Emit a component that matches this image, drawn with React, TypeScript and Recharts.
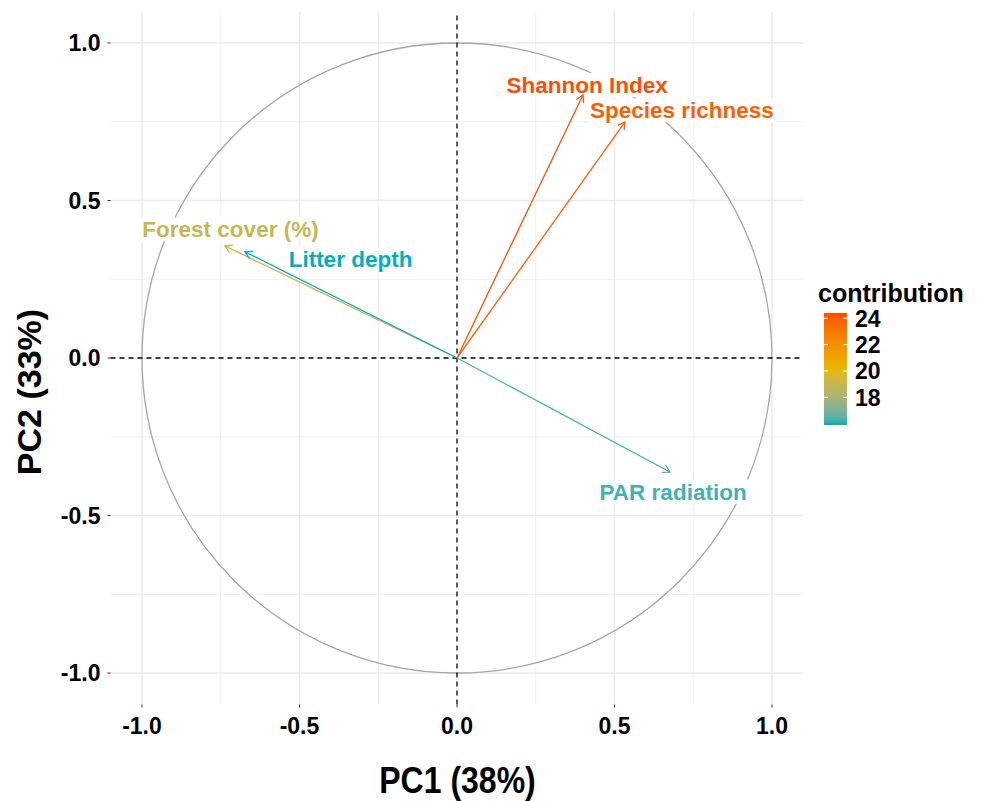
import React from 'react';
import { ComposedChart, XAxis, YAxis, Scatter, ReferenceLine, ReferenceDot, Label } from 'recharts';

const FONT = "'Liberation Sans', Arial, sans-serif";

// PCA variable coordinates
const variables = ['Shannon Index', 'Species richness', 'Forest cover (%)', 'Litter depth', 'PAR radiation'];
const pc1 = [0.4, 0.533, -0.737, -0.673, 0.676];
const pc2 = [0.835, 0.749, 0.356, 0.337, -0.362];
const contribution = [24.4, 23.9, 19.0, 15.9, 16.2];
// where each text label sits (PC units)
const labelPc1 = [0.413, 0.714, -0.719, -0.338, 0.686];
const labelPc2 = [0.867, 0.786, 0.408, 0.313, -0.424];

const axisTicks = [-1, -0.5, 0, 0.5, 1];
const minorTicks = [-0.75, -0.25, 0.25, 0.75];
const majorGrid = [-1, -0.5, 0.5, 1];
const legendTicks = [18, 20, 22, 24];
const gradientCols = ['#00AFBB', '#E7B800', '#FC4E07'];

const tips = variables.map((name, i) => ({ name, x: pc1[i], y: pc2[i] }));

// --- colour ramp interpolated in CIELAB, like ggplot's gradientn
function hexToLab(hex: string): number[] {
  const c = [1, 3, 5].map((i) => parseInt(hex.slice(i, i + 2), 16) / 255);
  const [r, g, b] = c.map((v) => (v <= 0.04045 ? v / 12.92 : ((v + 0.055) / 1.055) ** 2.4));
  const X = (0.4124 * r + 0.3576 * g + 0.1805 * b) / 0.95047;
  const Y = 0.2126 * r + 0.7152 * g + 0.0722 * b;
  const Z = (0.0193 * r + 0.1192 * g + 0.9505 * b) / 1.08883;
  const f = (t: number) => (t > 0.008856 ? Math.cbrt(t) : 7.787 * t + 16 / 116);
  const fx = f(X), fy = f(Y), fz = f(Z);
  return [116 * fy - 16, 500 * (fx - fy), 200 * (fy - fz)];
}

function labToHex([L, a, bb]: number[]): string {
  const fy = (L + 16) / 116;
  const fx = fy + a / 500;
  const fz = fy - bb / 200;
  const inv = (t: number) => (t ** 3 > 0.008856 ? t ** 3 : (t - 16 / 116) / 7.787);
  const X = inv(fx) * 0.95047, Y = inv(fy), Z = inv(fz) * 1.08883;
  const lin = [
    3.2406 * X - 1.5372 * Y - 0.4986 * Z,
    -0.9689 * X + 1.8758 * Y + 0.0415 * Z,
    0.0557 * X - 0.204 * Y + 1.057 * Z,
  ];
  return (
    '#' +
    lin
      .map((v) => {
        const s = v <= 0.0031308 ? 12.92 * v : 1.055 * v ** (1 / 2.4) - 0.055;
        const n = Math.round(Math.min(1, Math.max(0, s)) * 255);
        return n.toString(16).padStart(2, '0');
      })
      .join('')
  );
}

const labCols = gradientCols.map(hexToLab);
const cMin = Math.min(...contribution);
const cMax = Math.max(...contribution);

function rampColor(t: number): string {
  const tt = Math.min(1, Math.max(0, t)) * (labCols.length - 1);
  const i = Math.min(labCols.length - 2, Math.floor(tt));
  const f = tt - i;
  return labToHex(labCols[i].map((v, k) => v + (labCols[i + 1][k] - v) * f));
}

const contribColor = (v: number) => rampColor((v - cMin) / (cMax - cMin));

// --- shapes
function ArrowShape(props: any) {
  const { x1, y1, x2, y2, stroke } = props;
  const ang = Math.atan2(y2 - y1, x2 - x1);
  const len = 8;
  const spread = Math.PI / 6;
  const a1 = ang + Math.PI - spread;
  const a2 = ang + Math.PI + spread;
  const head = `${x2 + len * Math.cos(a1)},${y2 + len * Math.sin(a1)} ${x2},${y2} ${x2 + len * Math.cos(a2)},${
    y2 + len * Math.sin(a2)
  }`;
  return (
    <g>
      <line x1={x1} y1={y1} x2={x2} y2={y2} stroke={stroke} strokeWidth={1.3} />
      <polyline points={head} fill="none" stroke={stroke} strokeWidth={1.3} />
    </g>
  );
}

function CircleShape(props: any) {
  const { x1, y1, x2, y2 } = props;
  return (
    <ellipse
      cx={(x1 + x2) / 2}
      cy={(y1 + y2) / 2}
      rx={Math.abs(x2 - x1) / 2}
      ry={Math.abs(y2 - y1) / 2}
      fill="none"
      stroke="#A6A6A6"
      strokeWidth={1.3}
    />
  );
}

let measureCtx: CanvasRenderingContext2D | null = null;
function textWidth(text: string, font: string): number {
  if (!measureCtx) measureCtx = document.createElement('canvas').getContext('2d');
  if (!measureCtx) return text.length * 12;
  measureCtx.font = font;
  return measureCtx.measureText(text).width;
}

function makeLabel(text: string, color: string) {
  return (props: any) => {
    const { cx, cy } = props;
    const fs = 22.5;
    const w = textWidth(text, `bold ${fs}px ${FONT}`);
    return (
      <g>
        <rect x={cx - w / 2 - 2} y={cy - 12} width={w + 4} height={24} fill="#fff" />
        <text x={cx} y={cy + 8} textAnchor="middle" fontSize={fs} fontWeight="bold" fontFamily={FONT} fill={color}>
          {text}
        </text>
      </g>
    );
  };
}

function ContributionLegend() {
  const barX = 14, barTop = 35, barH = 112, barW = 23;
  const stops = Array.from({ length: 21 }, (_, i) => i / 20);
  const yOf = (v: number) => barTop + barH - ((v - cMin) / (cMax - cMin)) * barH;
  return (
    <svg width={175} height={160} style={{ position: 'absolute', left: 810, top: 278 }}>
      <defs>
        <linearGradient id="contribGrad" x1="0" y1="1" x2="0" y2="0">
          {stops.map((s) => (
            <stop key={s} offset={s} stopColor={rampColor(s)} />
          ))}
        </linearGradient>
      </defs>
      <text x={8} y={24} fontSize={25} fontWeight="bold" fontFamily={FONT} fill="#000">
        contribution
      </text>
      <rect x={barX} y={barTop} width={barW} height={barH} fill="url(#contribGrad)" />
      {legendTicks.map((t) => (
        <g key={t}>
          <line x1={barX} x2={barX + 4} y1={yOf(t)} y2={yOf(t)} stroke="#fff" strokeWidth={1} />
          <line x1={barX + barW - 4} x2={barX + barW} y1={yOf(t)} y2={yOf(t)} stroke="#fff" strokeWidth={1} />
          <text x={45} y={yOf(t)} dy="0.36em" fontSize={23} fontWeight="bold" fontFamily={FONT} fill="#000">
            {t}
          </text>
        </g>
      ))}
    </svg>
  );
}

const tickStyle = { fill: '#000', fontSize: 23, fontWeight: 'bold', fontFamily: FONT };

export default function App() {
  return (
    <div style={{ position: 'absolute', left: 0, top: 0, width: 988, height: 801, background: '#fff' }}>
      <ComposedChart width={988} height={801} margin={{ top: 11.5, right: 184.5, bottom: 66.5, left: 50.5 }}>
        <XAxis
          type="number"
          dataKey="x"
          domain={[-1.1, 1.1]}
          ticks={axisTicks}
          allowDataOverflow
          axisLine={false}
          tickSize={3}
          tickMargin={10}
          tickLine={{ stroke: '#333' }}
          tick={tickStyle}
          tickFormatter={(v: number) => v.toFixed(1)}
          height={30}
        >
          <Label
            content={(p: any) => {
              const vb = p.viewBox || { x: 110.5, y: 704.5, width: 693 };
              return (
                <text
                  transform={`translate(${vb.x + vb.width / 2 + 0.5},${vb.y + 88}) scale(1,1.15)`}
                  textAnchor="middle"
                  fontSize={32}
                  fontWeight="bold"
                  fontFamily={FONT}
                  fill="#000"
                >
                  PC1 (38%)
                </text>
              );
            }}
          />
        </XAxis>
        <YAxis
          type="number"
          dataKey="y"
          domain={[-1.1, 1.1]}
          ticks={axisTicks}
          allowDataOverflow
          axisLine={false}
          tickSize={3}
          tickMargin={7}
          tickLine={{ stroke: '#333' }}
          tick={tickStyle}
          tickFormatter={(v: number) => v.toFixed(1)}
          width={60}
        >
          <Label
            content={(p: any) => {
              const vb = p.viewBox || { x: 50.5, y: 11.5, width: 60, height: 693 };
              const bx = vb.x + vb.width - 70;
              const cy = vb.y + vb.height / 2 + 34;
              return (
                <text
                  transform={`translate(${bx},${cy}) rotate(-90)`}
                  textAnchor="middle"
                  fontSize={34}
                  fontWeight="bold"
                  fontFamily={FONT}
                  fill="#000"
                >
                  PC2 (33%)
                </text>
              );
            }}
          />
        </YAxis>

        {minorTicks.map((v) => (
          <ReferenceLine key={`mx${v}`} x={v} stroke="#F0F0F0" strokeWidth={1} zIndex={1} />
        ))}
        {minorTicks.map((v) => (
          <ReferenceLine key={`my${v}`} y={v} stroke="#F0F0F0" strokeWidth={1} zIndex={1} />
        ))}
        {majorGrid.map((v) => (
          <ReferenceLine key={`gx${v}`} x={v} stroke="#EBEBEB" strokeWidth={1.5} zIndex={2} />
        ))}
        {majorGrid.map((v) => (
          <ReferenceLine key={`gy${v}`} y={v} stroke="#EBEBEB" strokeWidth={1.5} zIndex={2} />
        ))}

        <ReferenceLine
          segment={[
            { x: -1, y: -1 },
            { x: 1, y: 1 },
          ]}
          shape={CircleShape}
          zIndex={3}
        />
        <ReferenceLine x={0} stroke="#000" strokeWidth={1.3} strokeDasharray="5 4" zIndex={4} />
        <ReferenceLine y={0} stroke="#000" strokeWidth={1.3} strokeDasharray="5 4" zIndex={4} />

        {variables.map((name, i) => (
          <ReferenceDot
            key={`lab${name}`}
            x={labelPc1[i]}
            y={labelPc2[i]}
            r={1}
            shape={makeLabel(name, contribColor(contribution[i]))}
            zIndex={5}
          />
        ))}

        {variables.map((name, i) => (
          <ReferenceLine
            key={`arr${name}`}
            segment={[
              { x: 0, y: 0 },
              { x: pc1[i], y: pc2[i] },
            ]}
            stroke={contribColor(contribution[i])}
            shape={ArrowShape}
            zIndex={6}
          />
        ))}

        <Scatter data={tips} dataKey="y" shape={() => <g />} isAnimationActive={false} />
      </ComposedChart>
      <ContributionLegend />
    </div>
  );
}
